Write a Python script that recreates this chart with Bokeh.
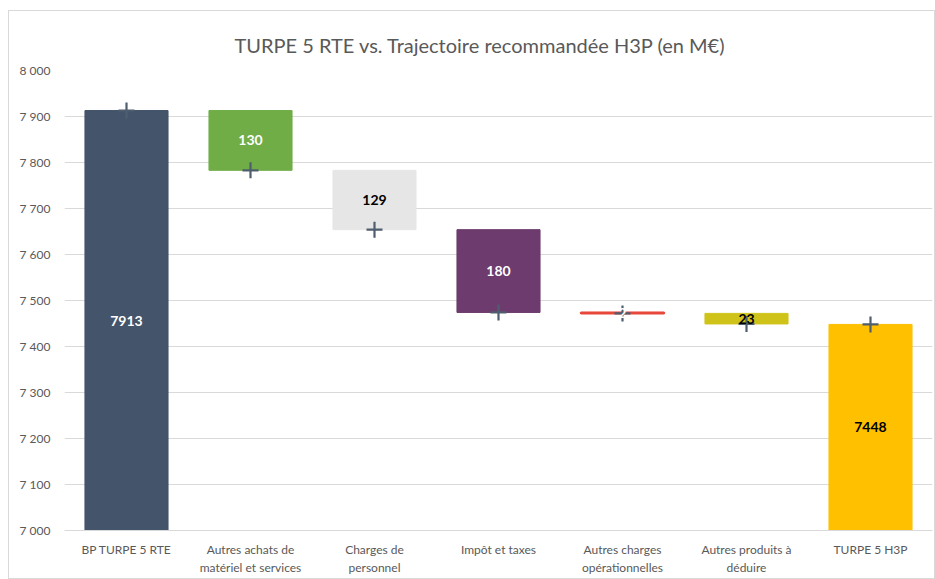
from bokeh.plotting import figure
from bokeh.models import ColumnDataSource, FixedTicker, Range1d, LabelSet
from bokeh.core.properties import value
from bokeh.embed import file_html
from bokeh.resources import INLINE

categories = ["BP TURPE 5 RTE", "Autres achats de\nmatériel et services", "Charges de\npersonnel",
              "Impôt et taxes", "Autres charges\nopérationnelles", "Autres produits à\ndéduire", "TURPE 5 H3P"]
start_total = 7913
deltas = [-130, -129, -180, -2, -23]
end_total = 7448
labels = ["7913", "130", "129", "180", "2", "23", "7448"]
colors = ["#44546A", "#70AD47", "#E7E6E6", "#6D3B6D", "#E8473B", "#CFC31A", "#FFC000"]
label_colors = ["white", "white", "black", "white", "white", "black", "black"]
y_ticks = [7000, 7100, 7200, 7300, 7400, 7500, 7600, 7700, 7800, 7900, 8000]
baseline = 7000

bottoms, tops, ends = [baseline], [start_total], [start_total]
level = start_total
for d in deltas:
    new = level + d
    bottoms.append(min(level, new))
    tops.append(max(level, new))
    ends.append(new)
    level = new
bottoms.append(baseline)
tops.append(end_total)
ends.append(end_total)
mids = [(b + t) / 2 for b, t in zip(bottoms, tops)]

src = ColumnDataSource(dict(x=categories, bottom=bottoms, top=tops, end=ends, mid=mids,
                            color=colors, label=labels, lcolor=label_colors))

FONT = "Lato"
p = figure(x_range=categories, y_range=Range1d(7000, 8000), width=927, height=569,
           output_backend="svg", toolbar_location=None,
           title="TURPE 5 RTE vs. Trajectoire recommandée H3P (en M€)",
           min_border_left=55, min_border_right=4, min_border_top=59, min_border_bottom=50)
p.styles = {"border": "1px solid #D9D9D9", "box-sizing": "border-box",
            "margin-left": "8px", "margin-top": "10px"}
p.title.align = "left"
p.title.text_font = FONT
p.title.text_font_size = "20px"
p.title.text_font_style = "normal"
p.title.text_color = "#595959"
p.title.offset = 170
p.title.standoff = 28
p.outline_line_color = None

p.vbar(x="x", bottom="bottom", top="top", width=0.67, fill_color="color", line_color="color",
       line_width=1, source=src)
p.vbar(x=[categories[4]], bottom=[bottoms[4]], top=[tops[4]], width=0.67,
       fill_color=colors[4], line_color=colors[4], line_width=2)

p.scatter(x="x", y="end", marker="cross", size=16, line_width=2.2, line_color="#4F5E6E", source=src)

p.add_layout(LabelSet(x="x", y="mid", text="label", source=src, text_align="center",
                      text_baseline="middle", text_font=value(FONT), text_font_style="bold",
                      text_font_size="14px", text_color="lcolor"))

p.yaxis.ticker = FixedTicker(ticks=y_ticks)
p.yaxis.major_label_overrides = {t: f"{t // 1000} {t % 1000:03d}" for t in y_ticks}
p.yaxis.axis_line_color = None
p.yaxis.major_tick_line_color = None
p.yaxis.minor_tick_line_color = None
p.yaxis.major_label_text_font = FONT
p.yaxis.major_label_text_font_size = "12px"
p.yaxis.major_label_text_color = "#595959"
p.yaxis.major_label_standoff = 8

p.xaxis.axis_line_color = "#D9D9D9"
p.xaxis.major_tick_line_color = None
p.xaxis.minor_tick_line_color = None
p.xaxis.major_label_text_font = FONT
p.xaxis.major_label_text_font_size = "12px"
p.xaxis.major_label_text_color = "#595959"
p.xaxis.major_label_standoff = 5

p.xgrid.grid_line_color = None
p.ygrid.grid_line_color = "#D9D9D9"
p.ygrid.ticker = FixedTicker(ticks=y_ticks)

open("out.html", "w").write(file_html(p, INLINE))
